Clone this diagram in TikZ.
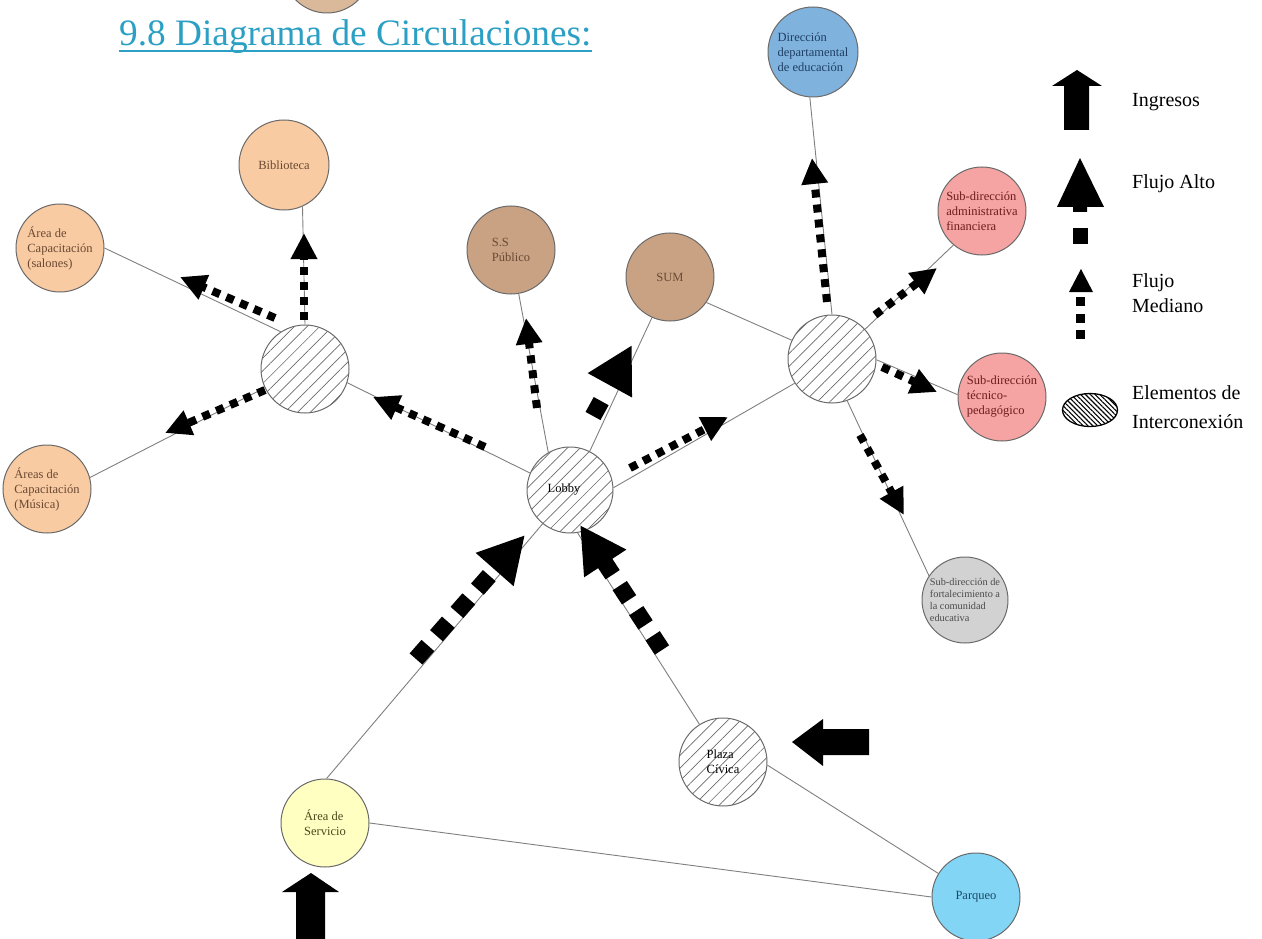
\documentclass[tikz,border=0pt]{standalone}
\usepackage{fontspec}
\setmainfont{Liberation Serif}
\usetikzlibrary{arrows.meta,patterns.meta,shapes.geometric,calc}
\definecolor{peach}{HTML}{F8CBA3}
\definecolor{tanc}{HTML}{C9A284}
\definecolor{tanlight}{HTML}{D9B99A}
\definecolor{dirblue}{HTML}{7FB2DC}
\definecolor{pinkc}{HTML}{F5A3A3}
\definecolor{graycl}{HTML}{D2D2D2}
\definecolor{yellowc}{HTML}{FFFFC2}
\definecolor{parqc}{HTML}{82D5F5}
\definecolor{brownt}{HTML}{6B4A33}
\definecolor{dirtext}{HTML}{1F3F66}
\definecolor{redtext}{HTML}{6E1C1C}
\definecolor{graytext}{HTML}{4A4A4A}
\definecolor{yeltext}{HTML}{4A4A1C}
\definecolor{parqtext}{HTML}{1C4A66}
\definecolor{titleblue}{HTML}{2BA0C4}
\definecolor{linegray}{HTML}{7F7F7F}
\definecolor{ringgray}{HTML}{6A6A6A}
\definecolor{hatch}{HTML}{6A6A6A}
\begin{document}
\begin{tikzpicture}[x=1pt,y=-1pt,
  conn/.style={draw=linegray, line width=0.9pt},
  room/.style={circle, draw=ringgray, line width=1pt, inner sep=0pt, minimum size=88pt, align=left, font=\fontsize{12.5}{15}\selectfont},
  hub/.style={circle, draw=ringgray, line width=1pt, inner sep=0pt, minimum size=88pt, align=left, font=\fontsize{12.5}{15}\selectfont, pattern={Lines[angle=45,distance=9pt,line width=0.7pt]}, pattern color=hatch},
  medflow/.style={line width=8pt, dash pattern=on 8pt off 7pt, -{Triangle[length=26pt,width=25pt]}},
  highflow/.style={line width=17pt, -{Triangle[length=46pt,width=47pt]}},
  legtext/.style={anchor=base west, inner sep=0pt, font=\fontsize{20}{25}\selectfont}
]
\useasboundingbox (0,0) rectangle (1262,939);

% title
\node[room, fill=tanlight, minimum size=88pt] (top) at (327,-31) {};
\node[anchor=base west, inner sep=0pt, text=titleblue, font=\fontsize{37.3}{40}\selectfont] (title) at (119,46) {9.8 Diagrama de Circulaciones:};
\draw[titleblue, line width=1.6pt] ($(title.base west)+(0,5)$) -- ($(title.base east)+(0,5)$);

% nodes
\node[room, fill=peach, text=brownt, minimum size=90pt] (bib) at (284,165) {Biblioteca};
\node[room, fill=peach, text=brownt] (sal) at (60,248) {Área de\\Capacitación\\(salones)};
\node[room, fill=peach, text=brownt] (mus) at (47,489) {Áreas de\\Capacitación\\(Música)};
\node[hub] (hubL) at (305,369) {};
\node[room, fill=tanc, text=brownt] (ss) at (511,250) {S.S\\Público};
\node[room, fill=tanc, text=brownt] (sum) at (670,277) {SUM};
\node[hub, minimum size=86pt] (lobby) at (570,490) {Lobby\hspace*{12pt}\vspace*{10pt}};
\node[room, fill=dirblue, text=dirtext, minimum size=90pt] (dir) at (813,52) {Dirección\\departamental\\de educación};
\node[room, fill=pinkc, text=redtext] (adm) at (982,211) {Sub-dirección\\administrativa\\financiera};
\node[hub] (hubR) at (832,359) {};
\node[room, fill=pinkc, text=redtext] (tec) at (1002,397) {Sub-dirección\\técnico-\\pedagógico};
\node[room, fill=graycl, text=graytext, minimum size=86pt, font=\fontsize{10.3}{12.3}\selectfont] (fort) at (965,600) {Sub-dirección de\\fortalecimiento a\\la comunidad\\educativa};
\node[hub] (plaza) at (723,762) {Plaza\\Cívica};
\node[room, fill=parqc, text=parqtext] (parq) at (976,897) {Parqueo};
\node[room, fill=yellowc, text=yeltext] (serv) at (325,823) {Área de\\Servicio};

% connectors
\draw[conn] (bib.-66) -- (hubL.90);
\draw[conn] (sal.east) -- (hubL.123);
\draw[conn] (mus.15) -- (hubL.205);
\draw[conn] (hubL.-18) -- (lobby.157);
\draw[conn] (ss.-80) -- (lobby.120);
\draw[conn] (sum.-114) -- (lobby.63);
\draw[conn] (sum.-35) -- (hubR.155);
\draw[conn] (lobby.3) -- (hubR.213);
\draw[conn] (hubR.90) -- (dir.-94);
\draw[conn] (hubR.42) -- (adm.230);
\draw[conn] (hubR.-1) -- (tec.177);
\draw[conn] (hubR.-70) -- (fort.146);
\draw[conn] (lobby.231) -- (serv.88);
\draw[conn] (lobby.-80) -- (plaza.122);
\draw[conn] (plaza.-4) -- (parq.148);
\draw[conn] (serv.0) -- (parq.180);

% flow arrow coordinates
\coordinate (a1s) at (304,320); \coordinate (a1e) at (304,233);
\coordinate (a2s) at (275,318); \coordinate (a2e) at (180,277);
\coordinate (a3s) at (265,390); \coordinate (a3e) at (165,433);
\coordinate (a4s) at (485,447); \coordinate (a4e) at (373,397);
\coordinate (a5s) at (537,408); \coordinate (a5e) at (526,318);
\coordinate (a6s) at (630,468); \coordinate (a6e) at (728,417);
\coordinate (a7s) at (827,302); \coordinate (a7e) at (812,158);
\coordinate (a8s) at (875,315); \coordinate (a8e) at (937,268);
\coordinate (a9s) at (882,367); \coordinate (a9e) at (937,392);
\coordinate (a10s) at (860,435); \coordinate (a10e) at (904,515);
\coordinate (h1s) at (593,416); \coordinate (h1e) at (632,345);
\coordinate (h2s) at (416,659); \coordinate (h2e) at (525,535);
\coordinate (h3s) at (662,650); \coordinate (h3e) at (580,525);

\draw[medflow] (a1s) -- (a1e);
\draw[medflow] (a2s) -- (a2e);
\draw[medflow] (a3s) -- (a3e);
\draw[medflow] (a4s) -- (a4e);
\draw[medflow] (a5s) -- (a5e);
\draw[medflow] (a6s) -- (a6e);
\draw[medflow] (a7s) -- (a7e);
\draw[medflow] (a8s) -- (a8e);
\draw[medflow] (a9s) -- (a9e);
\draw[medflow] (a10s) -- (a10e);
\draw[highflow, dash pattern=on 17pt off 30pt] (h1s) -- (h1e);
\draw[highflow, dash pattern=on 18pt off 13pt] (h2s) -- (h2e);
\draw[highflow, dash pattern=on 17pt off 13pt] (h3s) -- (h3e);

% entrance arrows
\fill (869,729) -- (823,729) -- (823,719) -- (792,742) -- (823,766) -- (823,755) -- (869,755) -- cycle;
\fill (296,940) -- (296,892) -- (282,892) -- (311,873) -- (339,892) -- (325,892) -- (325,940) -- cycle;

% legend
\fill (1064,130) -- (1064,86) -- (1052,86) -- (1077,70) -- (1102,86) -- (1089,86) -- (1089,130) -- cycle;
\fill (1080,158) -- (1104,207) -- (1087,207) -- (1087,212) -- (1073,212) -- (1073,207) -- (1057,207) -- cycle;
\fill (1073,228) rectangle (1088,244);
\fill (1081,269) -- (1093,292) -- (1069,292) -- cycle;
\fill (1076,297) rectangle (1085,306);
\fill (1076,314) rectangle (1085,323);
\fill (1076,330) rectangle (1085,339);
\node[ellipse, draw=black, line width=1.3pt, minimum width=55pt, minimum height=33pt, inner sep=0pt, pattern={Lines[angle=-45,distance=3.4pt,line width=1.1pt]}] (legHub) at (1090,410) {};

\node[legtext] (lIng) at (1132,107) {Ingresos};
\node[legtext] (lAlto) at (1132,189) {Flujo Alto};
\node[legtext] (lFlujo) at (1132,287) {Flujo};
\node[legtext] (lMed) at (1132,312) {Mediano};
\node[legtext] (lElem) at (1132,399) {Elementos de};
\node[legtext] (lInter) at (1132,428) {Interconexión};
\end{tikzpicture}
\end{document}
